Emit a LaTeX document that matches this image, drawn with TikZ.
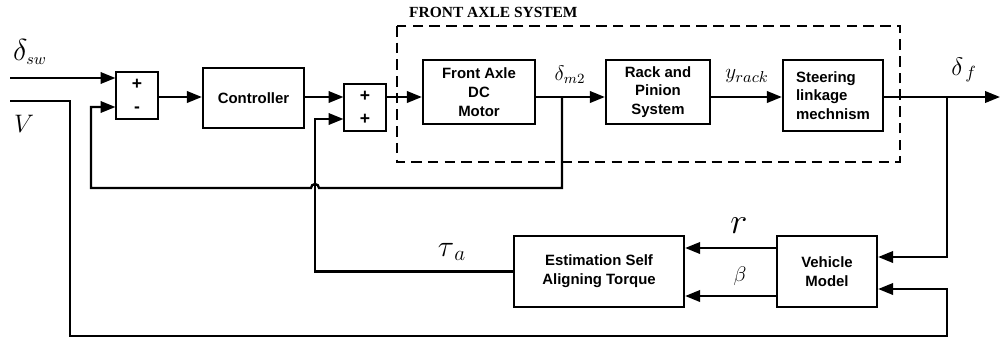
\documentclass[tikz,border=0pt]{standalone}
\usepackage{amssymb, amsmath}
\usepackage{fontspec}
\newfontfamily\blkfont{Liberation Sans}
\newfontfamily\ttlfont{Liberation Serif}
\usetikzlibrary{arrows.meta}

\tikzset{
  blk/.style={draw, line width=1.3pt, align=center, inner sep=0pt,
    font=\blkfont\bfseries\fontsize{8.5}{10.7}\selectfont},
  sumbox/.style={draw, line width=0.6pt, align=center, inner sep=0pt,
    minimum width=0.84cm, minimum height=0.94cm,
    font=\blkfont\bfseries\fontsize{10}{13}\selectfont},
  wire/.style={line width=1.3pt},
  sig/.style={line width=1.3pt, -{Triangle[length=8.5pt,width=6.5pt]}},
}

\begin{document}
\begin{tikzpicture}[x=0.02cm, y=-0.02cm]
    \useasboundingbox (0,0) rectangle (1000,342);
    % Draw the front axle frame
    \draw[line width=0.6pt, dash pattern=on 6pt off 3.5pt] (397,26) rectangle (900,162);
    \node[anchor=west, font=\ttlfont\bfseries\fontsize{8.8}{10}\selectfont] (ttl) at (403,12) {FRONT AXLE SYSTEM};
    % Draw the blocks
    \node[sumbox] (sum1) at (137,95.5) {+\\-};
    \node[blk, minimum width=2.02cm, minimum height=1.2cm] (ctrl) at (253.5,98) {Controller};
    \node[sumbox] (sum2) at (365,107.5) {+\\+};
    \node[blk, minimum width=2.24cm, minimum height=1.28cm] (motor) at (479,92) {Front Axle\\DC\\Motor};
    \node[blk, minimum width=2.08cm, minimum height=1.28cm] (rack) at (658,92) {Rack and\\Pinion\\System};
    \node[blk, align=left, minimum width=2.0cm, minimum height=1.42cm] (steer) at (833,95.5) {Steering\\linkage\\mechnism};
    \node[blk, minimum width=3.4cm, minimum height=1.42cm] (est) at (599,271.5) {Estimation Self\\Aligning Torque};
    \node[blk, minimum width=2.0cm, minimum height=1.42cm] (veh) at (827,271.5) {Vehicle\\Model};
    % Main signal line
    \coordinate (m) at (0,97);
    \coordinate (in) at (10,78);
    \coordinate (vin) at (10,101);
    \coordinate (out) at (1000,97);
    \coordinate (tapm) at (562,97);
    \coordinate (tapf) at (947,97);
    \draw[sig] (in) -- (sum1.west |- in);
    \draw[sig] (sum1.east |- m) -- (ctrl.west |- m);
    \draw[sig] (ctrl.east |- m) -- (sum2.west |- m);
    \draw[sig] (sum2.east |- m) -- (motor.west |- m);
    \draw[sig] (motor.east |- m) -- (rack.west |- m);
    \draw[sig] (rack.east |- m) -- (steer.west |- m);
    \draw[sig] (steer.east |- m) -- (out);
    % Feedback of the motor angle, hopping over the torque line
    \draw[sig] (tapm) -- (562,188) -- (319,188)
        arc[start angle=0, end angle=180, radius=0.08cm] -- (91,188) -- (91,107) -- (sum1.west |- 0,107);
    % Aligning torque to the second sum
    \draw[sig] (est.west) -- (315,271.5) -- (315,119) -- (sum2.west |- 0,119);
    % Front wheel angle and speed to the vehicle model
    \draw[sig] (tapf) -- (947,257) -- (veh.east |- 0,257);
    \draw[sig] (vin) -- (70,101) -- (70,336) -- (947,336) -- (947,289) -- (veh.east |- 0,289);
    \draw[sig] (veh.west |- 0,248) -- (est.east |- 0,248);
    \draw[sig] (veh.west |- 0,296) -- (est.east |- 0,296);
    % Signal labels
    \node[font=\fontsize{19}{22}\selectfont] (dsw) at (30,52) {$\delta_{\scriptscriptstyle sw}$};
    \node[font=\fontsize{14}{16}\selectfont] (lv) at (24,124) {$V$};
    \node[font=\fontsize{12}{14}\selectfont] (dm) at (570,75) {$\delta_{m2}$};
    \node[font=\fontsize{13}{15}\selectfont] (yr) at (747,76) {$y_{rack}$};
    \node[font=\fontsize{14}{16}\selectfont] (df) at (964,70) {$\delta_{\,f}$};
    \node[font=\fontsize{22}{24}\selectfont] (lr) at (739,226) {$r$};
    \node[font=\fontsize{13}{15}\selectfont] (lb) at (740,276) {$\beta$};
    \node[font=\fontsize{18}{20}\selectfont] (ta) at (452,252) {$\tau_{\,a}$};
\end{tikzpicture}
\end{document}
